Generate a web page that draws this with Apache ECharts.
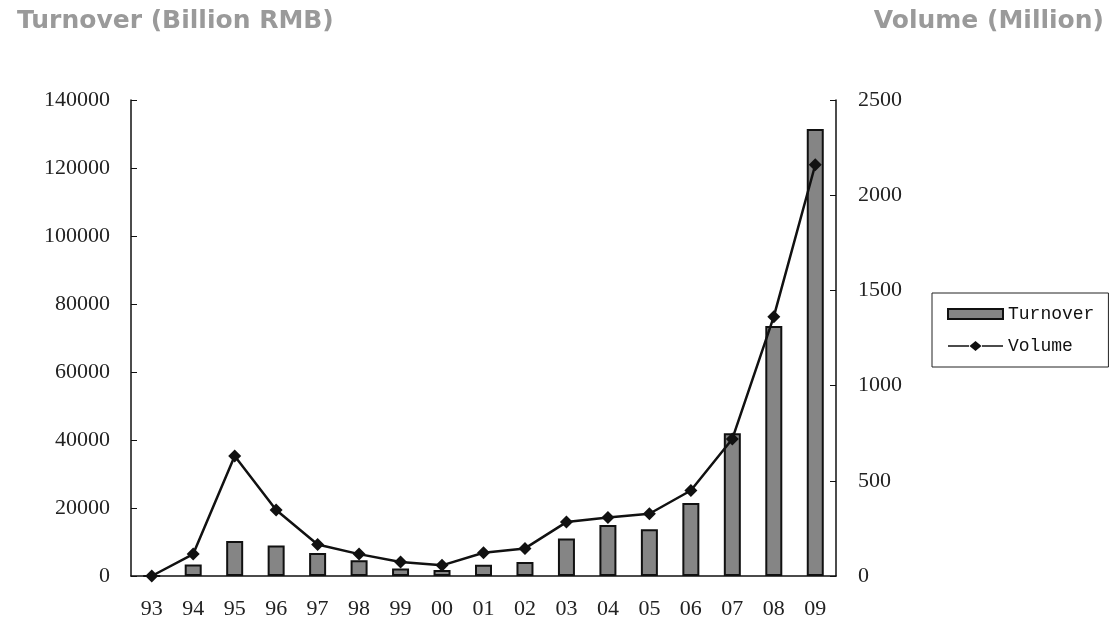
<!DOCTYPE html>
<html>
<head>
<meta charset="utf-8">
<script src="https://cdn.jsdelivr.net/npm/echarts@6/dist/echarts.min.js"></script>
<style>
  html, body { margin: 0; padding: 0; background: #fff; }
  #chart { width: 1113px; height: 621px; }
</style>
</head>
<body>
<div id="chart"></div>
<script>
// Years (two-digit labels)
const years = ['93', '94', '95', '96', '97', '98', '99', '00', '01', '02', '03', '04', '05', '06', '07', '08', '09'];
// Annual turnover, billion RMB (left axis)
const turnover = [0, 3400, 10300, 9000, 6800, 4600, 2200, 1800, 3300, 4100, 11000, 15000, 13750, 21500, 42000, 73500, 131500];
// Annual volume, million (right axis)
const volume = [0, 115, 630, 347, 165, 115, 73, 56, 122, 145, 283, 307, 327, 449, 720, 1362, 2160];

const serif = 'Liberation Serif';
const plain = v => String(v);
// Legend glyph for the volume line: a thin stroke with a diamond in the middle
const lineDiamond = 'path://M0,4.3L21,4.3L21,5.7L0,5.7Z M27.5,0L33.5,5L27.5,10L21.5,5Z M34,4.3L55,4.3L55,5.7L34,5.7Z';

const chart = echarts.init(document.getElementById('chart'));

chart.setOption({
  animation: false,
  backgroundColor: '#fff',
  title: [
    {
      text: 'Turnover (Billion RMB)',
      left: 12, top: 4,
      textStyle: { fontFamily: 'DejaVu Sans', fontWeight: 'bold', fontSize: 25, color: '#9a9a9a' }
    },
    {
      text: 'Volume (Million)',
      right: 4, top: 4,
      textStyle: { fontFamily: 'DejaVu Sans', fontWeight: 'bold', fontSize: 25, color: '#9a9a9a' }
    }
  ],
  legend: {
    orient: 'vertical',
    left: 932, top: 293,
    padding: [12, 14, 12, 15],
    itemGap: 14,
    itemWidth: 55,
    itemHeight: 10,
    borderColor: '#222',
    borderWidth: 1,
    textStyle: { fontFamily: 'Liberation Mono', fontSize: 18, color: '#111' },
    data: [
      { name: 'Turnover', icon: 'rect' },
      { name: 'Volume', icon: lineDiamond }
    ]
  },
  grid: { left: 131, right: 277, top: 100, bottom: 45 },
  xAxis: {
    type: 'category',
    data: years,
    boundaryGap: true,
    axisLine: { lineStyle: { color: '#111', width: 1.5 } },
    axisTick: { inside: true, length: 6, lineStyle: { color: '#111' } },
    axisLabel: { fontFamily: serif, fontSize: 22, color: '#222', margin: 22 }
  },
  yAxis: [
    {
      type: 'value',
      min: 0, max: 140000, interval: 20000,
      axisLine: { show: true, lineStyle: { color: '#111', width: 1.5 } },
      axisTick: { show: true, inside: true, length: 6, lineStyle: { color: '#111' } },
      splitLine: { show: false },
      axisLabel: { fontFamily: serif, fontSize: 22, color: '#222', margin: 21, formatter: plain }
    },
    {
      type: 'value',
      min: 0, max: 2500, interval: 500,
      position: 'right',
      axisLine: { show: true, lineStyle: { color: '#111', width: 1.5 } },
      axisTick: { show: true, inside: true, length: 6, lineStyle: { color: '#111' } },
      splitLine: { show: false },
      axisLabel: { fontFamily: serif, fontSize: 22, color: '#222', margin: 22, formatter: plain }
    }
  ],
  series: [
    {
      name: 'Turnover',
      type: 'bar',
      yAxisIndex: 0,
      barWidth: 17,
      data: turnover,
      itemStyle: { color: '#858585', borderColor: '#111', borderWidth: 2 }
    },
    {
      name: 'Volume',
      type: 'line',
      yAxisIndex: 1,
      data: volume,
      symbol: 'diamond',
      symbolSize: 13,
      lineStyle: { color: '#111', width: 2.5 },
      itemStyle: { color: '#111' }
    }
  ]
});
</script>
</body>
</html>
